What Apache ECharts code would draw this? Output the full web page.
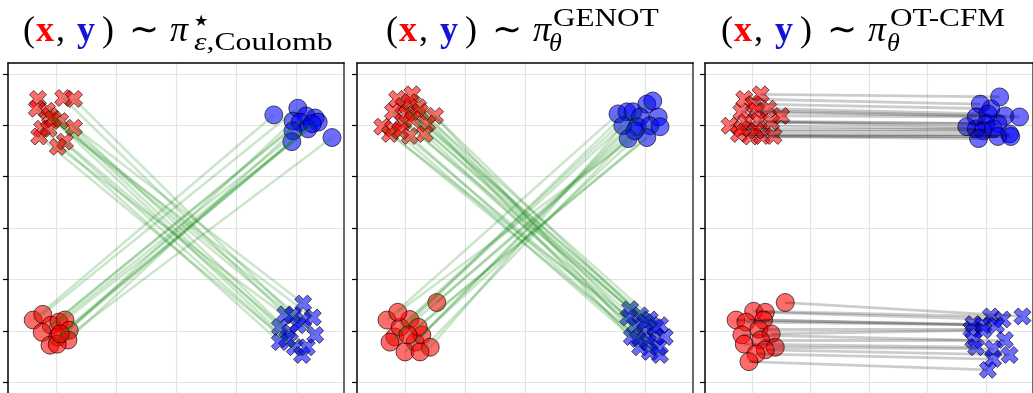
<!DOCTYPE html>
<html>
<head>
<meta charset="utf-8">
<script src="https://cdn.jsdelivr.net/npm/echarts@6/dist/echarts.min.js"></script>
<style>
html, body { margin: 0; padding: 0; background: #fff; }
#chart { width: 1033px; height: 393px; }
</style>
</head>
<body>
<div id="chart"></div>
<script>
// Gridline positions (shared by all three panels)
const gridX = [-2, -1, 0, 1, 2];
const gridY = [-3, -2, -1, 0, 1, 2, 3];

// Panel 1: entropic Coulomb coupling
const coulombSrcCross = [[-2.30, 2.51], [-1.88, 2.53], [-1.70, 2.51], [-2.32, 2.32], [-2.15, 2.28], [-2.10, 2.18], [-1.93, 2.08], [-1.70, 1.95], [-2.23, 1.93], [-2.28, 1.78], [-2.12, 1.93], [-1.85, 1.68], [-1.97, 1.58], [-2.05, 2.12]];
const coulombDstCross = [[2.12, -1.47], [1.82, -1.68], [1.95, -1.70], [2.28, -1.74], [2.12, -1.79], [2.32, -2.08], [1.73, -1.93], [1.90, -2.03], [1.73, -2.22], [1.98, -2.32], [2.10, -2.47], [2.18, -2.32], [2.03, -1.89], [1.85, -2.16]];
const coulombSrcCircle = [[-2.38, -1.79], [-2.22, -1.68], [-2.08, -1.89], [-1.95, -1.83], [-1.85, -1.79], [-1.78, -1.99], [-2.23, -2.03], [-1.97, -2.12], [-1.80, -2.18], [-2.10, -2.28], [-1.98, -2.26], [-1.93, -2.06]];
const coulombDstCircle = [[1.63, 2.20], [2.03, 2.33], [2.17, 2.18], [2.32, 2.14], [2.37, 2.06], [1.95, 2.08], [2.07, 2.06], [2.20, 1.93], [1.95, 1.89], [1.93, 1.68], [2.60, 1.76], [2.27, 2.03]];

// Panel 2: GENOT samples
const genotSrcCross = [[-2.13, 2.51], [-1.88, 2.60], [-2.03, 2.37], [-1.92, 2.45], [-1.78, 2.35], [-2.20, 2.26], [-1.97, 2.22], [-1.75, 2.26], [-1.50, 2.18], [-2.38, 1.97], [-2.20, 1.93], [-2.03, 2.06], [-1.87, 2.12], [-1.63, 2.03], [-2.25, 1.83], [-1.92, 1.79], [-1.67, 1.83], [-2.08, 1.89]];
const genotDstCross = [[1.75, -1.58], [1.92, -1.70], [2.08, -1.78], [2.25, -1.89], [1.83, -1.89], [2.00, -2.03], [2.17, -2.12], [1.92, -2.32], [2.08, -2.41], [2.25, -2.47], [1.78, -2.12], [2.33, -2.12], [2.00, -1.83], [2.17, -1.93], [1.72, -1.74], [1.88, -2.16], [2.05, -2.22], [2.22, -2.32]];
const genotSrcCircle = [[-2.30, -1.79], [-2.17, -2.12], [-2.08, -1.93], [-1.92, -1.78], [-1.83, -2.22], [-2.00, -2.41], [-1.72, -2.08], [-1.58, -2.32], [-1.47, -1.45], [-2.12, -1.64], [-1.78, -1.93], [-2.25, -2.22], [-1.95, -2.08], [-1.75, -2.41]];
const genotDstCircle = [[1.55, 2.22], [1.70, 2.26], [1.80, 2.26], [2.03, 2.41], [2.13, 2.47], [1.92, 2.16], [2.22, 2.16], [1.63, 1.99], [1.87, 1.97], [2.08, 1.99], [2.25, 1.97], [1.72, 1.74], [2.03, 1.76], [1.83, 1.89]];

// Panel 3: OT-CFM samples
const cfmSrcCross = [[-2.13, 2.51], [-1.85, 2.60], [-1.97, 2.41], [-2.18, 2.26], [-1.92, 2.28], [-1.72, 2.32], [-1.50, 2.18], [-2.38, 1.99], [-2.10, 2.06], [-1.88, 2.08], [-1.67, 2.06], [-2.22, 1.83], [-2.02, 1.78], [-1.83, 1.79], [-1.63, 1.79], [-2.17, 1.93], [-1.93, 1.89]];
const cfmDstCircle = [[2.23, 2.55], [2.08, 2.32], [1.90, 2.41], [2.32, 2.18], [2.57, 2.16], [1.83, 2.16], [2.00, 2.03], [2.20, 2.03], [1.67, 1.97], [1.83, 1.93], [1.95, 1.89], [2.12, 1.93], [2.40, 1.83], [2.20, 1.78], [2.42, 1.78], [2.03, 2.22], [1.87, 1.74]];
const cfmSrcCircle = [[-1.43, -1.45], [-1.97, -1.62], [-1.77, -1.64], [-2.27, -1.79], [-2.10, -1.83], [-1.80, -1.79], [-1.88, -1.97], [-2.17, -2.08], [-1.67, -2.06], [-1.85, -2.18], [-2.13, -2.26], [-1.60, -2.32], [-1.77, -2.37], [-1.93, -2.45], [-2.05, -2.60]];
const cfmDstCross = [[2.62, -1.72], [2.08, -1.72], [2.28, -1.78], [1.78, -1.87], [1.95, -1.89], [2.17, -1.89], [1.75, -1.97], [1.95, -1.99], [1.78, -2.18], [2.32, -2.18], [1.83, -2.32], [2.12, -2.35], [2.40, -2.47], [2.12, -2.55], [2.03, -2.76]];

const X_MARK = 'path://M6,0L8,2L6,4L8,6L6,8L4,6L2,8L0,6L2,4L0,2L2,0L4,2Z';
const RED = 'rgba(255,0,0,0.72)';
const BLUE = 'rgba(0,0,255,0.72)';
const EDGE = 'rgba(0,0,0,0.8)';

const panelLeft = [8, 357, 705];
const PANEL_W = 336, PANEL_H = 333, PANEL_TOP = 63;

function byYDesc(a) { return a.slice().sort((p, q) => q[1] - p[1]); }
function pairUp(src, dst) { return src.map((p, i) => ({ coords: [p, dst[i]] })); }

const panels = [
  { crossA: coulombSrcCross, crossB: coulombDstCross, circA: coulombSrcCircle, circB: coulombDstCircle,
    links: pairUp(coulombSrcCross, coulombDstCross).concat(pairUp(coulombSrcCircle, coulombDstCircle)), linkColor: '#008000', linkWidth: 2.6 },
  { crossA: genotSrcCross, crossB: genotDstCross, circA: genotSrcCircle, circB: genotDstCircle,
    links: pairUp(genotSrcCross, genotDstCross).concat(pairUp(genotSrcCircle, genotDstCircle)), linkColor: '#008000', linkWidth: 2.6 },
  { crossA: cfmSrcCross, crossB: cfmDstCross, circA: cfmSrcCircle, circB: cfmDstCircle,
    links: pairUp(byYDesc(cfmSrcCross), byYDesc(cfmDstCircle)).concat(pairUp(byYDesc(cfmSrcCircle), byYDesc(cfmDstCross))), linkColor: '#000000', linkWidth: 2.8 }
];

const grids = [], xAxes = [], yAxes = [], series = [];
panels.forEach((pn, i) => {
  grids.push({ left: panelLeft[i], top: PANEL_TOP, width: PANEL_W, height: PANEL_H, show: false });
  xAxes.push({
    type: 'value', gridIndex: i, min: -2.8, max: 2.8, position: 'top',
    axisLine: { show: true, onZero: false, lineStyle: { color: '#000', width: 1.5 } },
    axisTick: { show: false, customValues: gridX },
    axisLabel: { show: false, customValues: gridX },
    splitLine: { show: true, lineStyle: { color: '#e3e3e3', width: 1.2 } }
  });
  yAxes.push({
    type: 'value', gridIndex: i, min: -3.21, max: 3.21, position: 'left',
    axisLine: { show: true, onZero: false, lineStyle: { color: '#000', width: 1.5 } },
    axisTick: { show: true, inside: false, length: 5, customValues: gridY, lineStyle: { color: '#000', width: 1.2 } },
    axisLabel: { show: false, customValues: gridY },
    splitLine: { show: true, lineStyle: { color: '#e3e3e3', width: 1.2 } }
  });
  yAxes.push({
    type: 'value', gridIndex: i, min: -3.21, max: 3.21, position: 'right',
    axisLine: { show: true, onZero: false, lineStyle: { color: '#6a6a6a', width: 2 } },
    axisTick: { show: false }, axisLabel: { show: false }, splitLine: { show: false }
  });
  const yi = i * 2;
  const scat = (data, color, sym, size) => ({
    type: 'scatter', xAxisIndex: i, yAxisIndex: yi, data: data, symbol: sym, symbolSize: size,
    itemStyle: { color: color, borderColor: EDGE, borderWidth: 1 }, z: 2, silent: true
  });
  series.push(scat(pn.crossA, RED, X_MARK, 17));
  series.push(scat(pn.circA, RED, 'circle', 18));
  series.push(scat(pn.crossB, BLUE, X_MARK, 17));
  series.push(scat(pn.circB, BLUE, 'circle', 18));
  series.push({
    type: 'lines', coordinateSystem: 'cartesian2d', xAxisIndex: i, yAxisIndex: yi, data: pn.links,
    lineStyle: { color: pn.linkColor, width: pn.linkWidth, opacity: 0.2 }, z: 3, silent: true
  });
});

// Panel titles: (x, y) ~ pi with sub/superscripts
const SERIF = 'Liberation Serif';
const tok = (extra) => Object.assign({ fontFamily: SERIF, fontSize: 36, fontWeight: 'normal', fill: '#000', color: '#000', align: 'left' }, extra);
const mainRich = {
  lp: tok({ width: 13 }),
  x: tok({ width: 20, fontWeight: 'bold', fill: '#ff0000', color: '#ff0000' }),
  cm: tok({ width: 21 }),
  y: tok({ width: 25, fontWeight: 'bold', fill: '#1414d8', color: '#1414d8' }),
  rp: tok({ width: 27 }),
  sim: tok({ width: 41 }),
  pi: tok({ fontStyle: 'italic' })
};
const mainText = '{lp|(}{x|x}{cm|,}{y|y}{rp|)}{sim|∼}{pi|π}';
const scr = (extra) => Object.assign({ fontFamily: SERIF, fontSize: 26, fontWeight: 'normal', fill: '#000', color: '#000' }, extra);
const scriptRich = {
  it: scr({ fontStyle: 'italic' }),
  r: scr({}),
  s: scr({ fontFamily: 'DejaVu Sans', fontSize: 16 })
};

function label(x, y, text, rich, sx) {
  return { type: 'text', x: x, y: y, scaleX: sx || 1, silent: true,
    style: { text: text, rich: rich, align: 'left', verticalAlign: 'top' } };
}
const graphics = [
  label(23, 14, mainText, mainRich),
  label(194, 14, '{s|★}', scriptRich),
  label(194, 30, '{it|ε}{r|,Coulomb}', scriptRich, 1.22),
  label(386, 14, mainText, mainRich),
  label(553, 6, '{r|GENOT}', scriptRich, 1.2),
  label(549, 31, '{it|θ}', scriptRich),
  label(721, 14, mainText, mainRich),
  label(890, 6, '{r|OT-CFM}', scriptRich, 1.2),
  label(887, 31, '{it|θ}', scriptRich)
];

const chart = echarts.init(document.getElementById('chart'), null, { renderer: 'canvas' });
chart.setOption({
  animation: false,
  backgroundColor: '#fff',
  grid: grids,
  xAxis: xAxes,
  yAxis: yAxes,
  series: series,
  graphic: graphics
});
</script>
</body>
</html>
